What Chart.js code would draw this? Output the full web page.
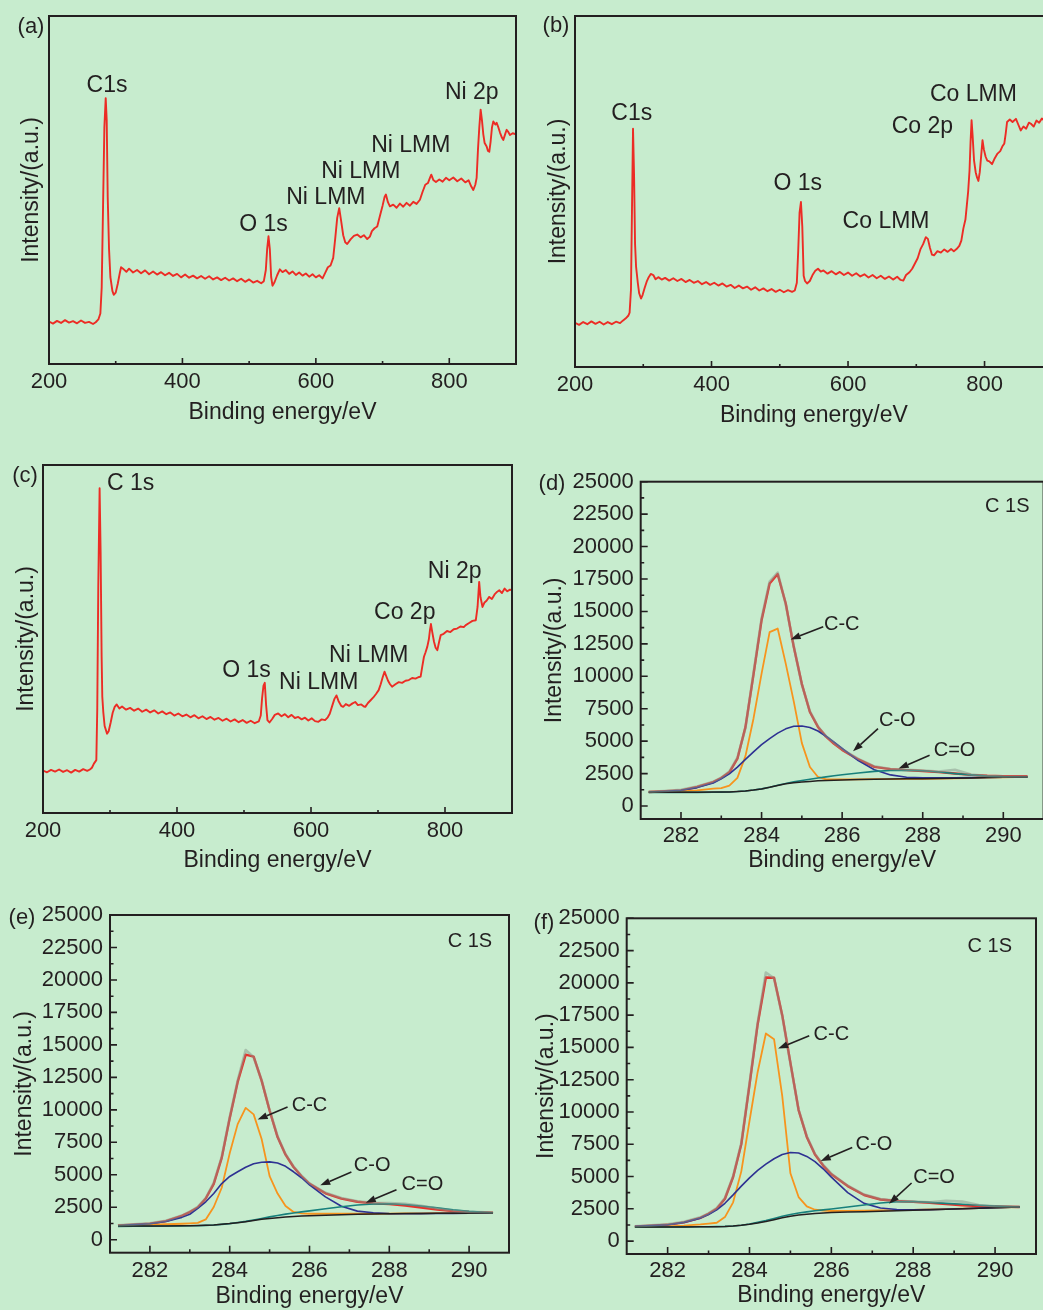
<!DOCTYPE html>
<html>
<head>
<meta charset="utf-8">
<script src="https://cdn.jsdelivr.net/npm/chart.js@4.4.1/dist/chart.umd.min.js"></script>
<style>
  html, body { margin: 0; padding: 0; width: 1043px; height: 1310px; overflow: hidden; background: #c7ecce; }
  .panel { position: absolute; }
  .tag { position: absolute; transform: translate(-50%, -50%); font: 22px "Liberation Sans", Arial, sans-serif; color: #231f20; white-space: nowrap; }
</style>
</head>
<body>
<div class="panel" style="left:0;top:0"><canvas id="chartA" width="530" height="440"></canvas></div>
<div class="panel" style="left:530px;top:0"><canvas id="chartB" width="530" height="440"></canvas></div>
<div class="panel" style="left:0;top:450px"><canvas id="chartC" width="530" height="440"></canvas></div>
<div class="panel" style="left:530px;top:460px"><canvas id="chartD" width="520" height="420"></canvas></div>
<div class="panel" style="left:0;top:890px"><canvas id="chartE" width="530" height="420"></canvas></div>
<div class="panel" style="left:520px;top:890px"><canvas id="chartF" width="523" height="420"></canvas></div>

<div class="tag" style="left:31px;top:26px">(a)</div>
<div class="tag" style="left:556px;top:25px">(b)</div>
<div class="tag" style="left:25px;top:475px">(c)</div>
<div class="tag" style="left:552px;top:483px">(d)</div>
<div class="tag" style="left:22px;top:917px">(e)</div>
<div class="tag" style="left:544px;top:922px">(f)</div>

<script>
// ---- tick labels ----
const surveyTicks = [200, 400, 600, 800];
const surveyMinor = [300, 500, 700];
const bindingTicks = [282, 284, 286, 288, 290];
const bindingMinor = [283, 285, 287, 289];
const intensityTicks = [0, 2500, 5000, 7500, 10000, 12500, 15000, 17500, 20000, 22500, 25000];
const intensityMinor = [1250, 3750, 6250, 8750, 11250, 13750, 16250, 18750, 21250, 23750];

// ---- survey spectra (a) ----
const energyA = [
  200,206,212,218,224,230,236,242,248,254,
  260,266,270,274,277,279,281,283,285,286.5,
  288,290,292,295,297,300,303,306,308,312,
  316,320,326,332,338,344,350,356,362,368,
  374,380,386,392,398,404,410,416,422,428,
  434,440,446,452,458,464,470,476,482,488,
  494,500,506,512,518,522,525,527,529,531,
  533,535,538,542,546,550,555,560,565,570,
  575,580,585,590,595,600,605,610,614,618,
  622,626,629,632,635,638,641,644,647,652,
  657,662,667,672,677,681,684,688,692,696,
  700,703,705,708,711,716,721,726,731,736,
  741,746,751,756,760,764,768,771,773,776,
  780,785,790,795,800,806,812,818,824,829,
  833,836,839,841,843,845,847,849,851,853,
  856,858,860,862,864,866,869,871,873,876,
  879,881,884,886,888,891,895,900];
const countsA = [
  12.2,11.6,12.4,11.8,12.6,11.9,12.3,11.7,12.5,11.8,
  12.1,11.5,12.0,12.8,14.5,22,45,68,76.4,70,
  48,33,25,21,19.9,20.5,23,26,27.8,27.2,
  26.5,27.4,26.3,27.0,26.1,26.9,25.8,26.6,25.7,26.4,
  25.5,26.2,25.3,25.9,24.9,25.7,24.8,25.4,24.6,25.3,
  24.5,25.2,24.3,24.9,24.1,24.8,24.0,24.6,23.8,24.5,
  23.6,24.3,23.4,23.9,23.2,23.8,27,33,36.7,33,
  25,22.5,23.5,25.5,27.2,26.4,27.0,25.9,26.6,25.6,
  26.3,25.4,26.0,25.1,25.8,24.9,25.5,24.6,26.2,27.8,
  28.3,30.5,36,42,44.8,41,37,35,34.5,35.8,
  36.8,37.2,36.4,37.0,35.9,36.6,38.2,39.0,39.5,42.5,
  45.5,48.0,48.7,46.5,45.3,45.8,44.9,46.1,45.2,46.3,
  45.5,46.6,46.0,47.2,49.5,51.5,52.0,53.5,54.4,52.9,
  52.3,53.0,52.4,53.5,52.8,53.6,52.5,53.3,52.2,52.8,
  51.0,50.0,51.5,53.5,61.6,68,73.1,70,66,63.5,
  62.5,61.2,61.0,64,68,69.7,68.8,69.3,68.3,66.5,
  65,64.4,66.2,67.3,66.8,65.8,66.3,66.0];

// ---- survey spectra (b) ----
const energyB = [
  200,206,212,218,224,230,236,242,248,254,
  260,266,270,274,278,280,282,283.5,285,286.5,
  288,289.5,292,294,296.7,299,302,305,308,311,
  314.7,318,322,327,332,338,344,350,356,362,
  368,374,380,386,392,398,404,410,416,422,
  428,434,440,446,452,458,464,470,476,482,
  488,494,500,506,512,518,522,525,527,529,
  531,533,535,537,540,544,548,552,556,560,
  564,570,576,582,588,594,600,606,612,618,
  624,630,636,642,648,654,660,666,672,677,
  681,685,690,694,698,702,706,710,714,717,
  720,723,726,731,736,741,746,751,755,759,
  763,766,769,772,774,776,778,779.5,781,782.5,
  784.6,787,789,791,793,795,797,799,801.6,804,
  807,811,815,819,823,826,829,831,833,837,
  841,846,850,853,857,861,865,868,872,876,
  880,884,887,891,895,900];
const countsB = [
  12.6,12.0,12.8,12.2,13.0,12.3,12.9,12.1,12.8,12.2,
  12.9,12.5,13.2,13.8,14.6,15.5,22,45,67.9,55,
  35,28.5,24,21,19.5,20.5,22.5,24.3,25.6,26.5,
  26.2,25.0,25.6,24.9,25.4,24.6,25.3,24.5,25.1,24.2,
  24.8,24.0,24.5,23.6,24.2,23.4,24.0,23.2,23.8,22.9,
  23.4,22.5,23.2,22.4,22.9,22.0,22.7,21.8,22.4,21.6,
  22.2,21.4,22.0,21.3,21.9,21.4,21.8,24,33,44,
  47,40,26,24.5,23.8,24.5,26.2,27.4,28.0,27.2,
  27.5,26.6,27.3,26.4,27.1,26.2,26.9,26.0,26.7,25.8,
  26.4,25.5,26.2,25.3,26.0,25.1,25.8,24.9,25.7,24.8,
  24.6,26.2,27.0,28.0,29.5,31.0,33.5,35.0,37.0,36.5,
  34.0,32.0,31.8,33.0,32.6,33.5,32.8,33.6,33.0,33.6,
  34.5,36.0,39.5,42.0,46,50,56,64,70.3,66,
  58.9,55.5,54.0,53.0,55.5,60,64.6,62,59.9,58.8,
  58.6,57.8,59.5,60.8,61.5,62.8,63.7,66.5,69.8,70.5,
  69.8,70.7,68.8,67.4,68.5,67.9,69.6,69.3,68.5,70.2,
  69.6,70.8,70.3,69.8,70.5,70.0];

// ---- survey spectra (c) ----
const energyC = [
  200,206,212,218,224,230,236,242,248,254,
  260,266,270,273,276,279.6,281,282.5,284.5,286,
  287.5,288.5,290,292,295.6,298,301,304,307,310,
  314,318,324,330,336,342,348,354,360,366,
  372,378,384,390,396,402,408,414,420,426,
  432,438,444,450,456,462,468,474,480,486,
  492,498,504,510,516,522,525,527,529,531,
  533,535,538,542,546,551,556,561,566,571,
  576,581,586,591,596,601,606,611,616,621,
  625,628,632,635,638,641,645,648,652,657,
  662,666,670,675,679,681,685,689,693,697,
  701,704,707,709.7,712,715,718,721,726,731,
  736,741,746,751,756,760,763.6,766,768.6,771,
  773.6,776,777.5,779,781,783.6,786,788.6,791,793.6,
  798,803,808,813,818,823,828,831,836,841,
  846,848.6,851,853,856,859,862,866,870,874,
  878,881,885,889,893,897,900];
const countsC = [
  12.2,11.7,12.4,11.9,12.5,11.8,12.3,11.6,12.4,11.9,
  12.6,12.1,12.5,13.0,14.2,15.2,30,65,93.3,75,
  45,33.4,29,25,22.8,23.5,26,28.8,30.5,31.2,
  30.0,30.6,29.7,30.2,29.4,30.0,29.1,29.7,28.9,29.5,
  28.6,29.2,28.4,28.9,28.0,28.6,27.8,28.3,27.5,28.1,
  27.2,27.8,27.0,27.6,26.8,27.3,26.5,27.1,26.3,26.9,
  26.1,26.7,25.9,26.5,25.8,26.3,28,33,36.5,37.4,
  31,26.7,26.0,27.0,28.2,28.6,27.8,28.4,27.5,28.2,
  27.3,27.6,26.9,27.4,26.6,27.2,26.4,26.2,26.9,26.7,
  27.5,28.5,31.0,32.8,33.8,32.2,30.8,30.5,31.3,30.8,
  31.5,31.9,31.0,31.2,30.6,30.5,31.6,32.4,33.2,34.2,
  35.3,37.0,39.0,40.6,39.5,38.0,37.0,36.3,37.0,37.6,
  37.4,38.0,38.2,38.8,38.6,39.0,39.2,42.0,44.9,46.2,
  47.8,50.0,52.5,54.3,52.0,49.2,47.5,46.8,49.0,51.1,
  51.5,52.3,52.0,52.8,53.0,53.6,53.4,54.0,54.6,55.2,
  55.4,59.2,66.4,62.0,59.2,60.5,61.0,62.1,61.5,62.8,
  63.6,64.0,63.2,64.5,63.7,64.2,64.0];

// ---- C 1s high resolution, common energy grid ----
const energyC1s = [281.2, 281.6, 282.0, 282.4, 282.8, 283.0, 283.2, 283.4, 283.6, 283.8,
  284.0, 284.2, 284.4, 284.6, 284.8, 285.0, 285.2, 285.4, 285.6, 285.8,
  286.0, 286.4, 286.8, 287.2, 287.6, 288.0, 288.4, 288.8, 289.2, 289.6, 290.0, 290.6];

// (d)
const rawD      = [1090,1160,1250,1510,1880, 2180,2650,3720,6040,10250, 14450,17300,18000,15560,12300, 9350,7300,6130,5380,4850, 4370,3640,3060,2850,2800, 2740,2660,2800,2430,2320, 2270,2280];
const envelopeD = [1080,1140,1210,1470,1850, 2160,2600,3650,6080,10150, 14330,17150,17880,15610,12250, 9400,7250,6100,5350,4800, 4330,3590,3020,2840,2770, 2700,2610,2510,2400,2330, 2290,2290];
const ccD       = [1080,1100,1130,1210,1340, 1380,1580,2170,3850,6750, 10210,13400,13680,10980,8050, 4850,3010,2240,2060,2050, 2050,2060,2070,2080,2090, 2100,2120,2140,2160,2190, 2210,2240];
const coD       = [1080,1140,1210,1420,1780, 2100,2480,3000,3600,4170, 4730,5200,5620,5950,6150, 6170,6050,5780,5380,4920, 4440,3500,2800,2400,2220, 2180,2180,2180,2190,2200, 2220,2240];
const cdoD      = [1040,1045,1050,1055,1065, 1075,1085,1115,1160,1230, 1320,1450,1600,1740,1860, 1970,2070,2160,2250,2330, 2410,2550,2670,2740,2760, 2720,2620,2500,2400,2320, 2270,2240];
const baseD     = [1060,1060,1065,1070,1075, 1080,1090,1120,1160,1230, 1320,1440,1580,1710,1800, 1860,1900,1940,1970,1990, 2010,2050,2070,2090,2100, 2110,2130,2150,2170,2190, 2210,2240];

// (e)
const rawE      = [1110,1180,1270,1460,1860, 2150,2520,3210,4380,6380, 9430,12250,14600,14050,12280, 9980,7950,6580,5630,4920, 4340,3610,3210,2960,2850, 2820,2760,2620,2400,2230, 2140,2090];
const envelopeE = [1100,1160,1230,1430,1830, 2130,2480,3170,4300,6300, 9350,12150,14250,14100,12250, 9950,7900,6550,5600,4880, 4300,3570,3160,2920,2800, 2740,2630,2480,2320,2200, 2130,2080];
const ccE       = [1100,1130,1160,1190,1230, 1260,1300,1560,2520,4000, 6650,8900,10150,9650,7750, 4900,3550,2600,2140,2030, 2000,2000,2000,2000,2000, 2010,2020,2030,2040,2045, 2050,2055];
const coE       = [1100,1160,1230,1400,1720, 1960,2420,2920,3560,4320, 4870,5230,5580,5850,5960, 5990,5900,5650,5230,4770, 4220,3300,2580,2200,2070, 2010,2000,2005,2015,2030, 2040,2055];
const cdoE      = [1030,1035,1040,1050,1060, 1070,1080,1100,1130,1180, 1240,1320,1410,1520,1640, 1760,1870,1970,2060,2140, 2220,2380,2540,2670,2750, 2770,2710,2600,2460,2310, 2190,2080];
const baseE     = [1050,1055,1060,1065,1075, 1080,1090,1110,1140,1190, 1240,1310,1390,1480,1570, 1640,1700,1750,1790,1820, 1850,1890,1930,1960,1980, 2000,2010,2020,2030,2040, 2045,2055];

// (f)
const rawF      = [1150,1220,1300,1490,1840, 2140,2550,3340,5030,7600, 12200,16900,20800,20350,17450, 13750,10180,8110,6750,5900, 5220,4290,3600,3250,3130, 3060,3010,3120,3060,2800, 2700,2650];
const envelopeF = [1140,1200,1260,1450,1800, 2110,2500,3280,4960,7500, 12100,16800,20420,20400,17500, 13800,10150,8070,6700,5850, 5180,4260,3570,3220,3110, 3040,2960,2860,2780,2720, 2690,2640];
const ccF       = [1085,1110,1140,1200,1290, 1350,1420,1860,3000,5400, 9300,13100,16080,15640,11250, 5250,3410,2690,2430,2370, 2330,2340,2360,2380,2400, 2420,2450,2480,2520,2560, 2590,2640];
const coF       = [1140,1200,1260,1450,1780, 2060,2420,2930,3580,4260, 4900,5470,5960,6380,6700, 6860,6820,6560,6150,5600, 4950,3750,2920,2560,2450, 2430,2440,2470,2510,2550, 2590,2640];
const cdoF      = [1085,1090,1095,1100,1110, 1115,1125,1140,1170,1230, 1320,1450,1590,1750,1920, 2060,2170,2260,2350,2420, 2490,2640,2800,2950,3050, 3070,3000,2920,2850,2780, 2720,2640];
const baseF     = [1085,1090,1095,1100,1110, 1115,1120,1130,1160,1220, 1300,1400,1520,1660,1800, 1920,2020,2080,2140,2180, 2210,2250,2280,2320,2350, 2380,2420,2460,2500,2550, 2590,2640];

const ink = '#231f20';
const FONT = '"Liberation Sans", Arial, sans-serif';
Chart.defaults.font.family = FONT;
Chart.defaults.color = ink;

function pts(xs, ys) {
  return xs.map((x, i) => ({ x: x, y: ys[i] }));
}

// frame, inward ticks, peak names and arrows
const frame = {
  id: 'frame',
  afterDatasetsDraw(chart, args, opts) {
    const { ctx, chartArea: a, scales: { x, y } } = chart;
    ctx.save();
    ctx.strokeStyle = ink;
    ctx.fillStyle = ink;
    ctx.lineWidth = 2;
    ctx.strokeRect(a.left, a.top, a.right - a.left, a.bottom - a.top);

    ctx.lineWidth = 1.6;
    ctx.beginPath();
    x.ticks.forEach(t => {
      const px = x.getPixelForValue(t.value);
      ctx.moveTo(px, a.bottom); ctx.lineTo(px, a.bottom - opts.major);
    });
    (opts.xMinor || []).forEach(v => {
      const px = x.getPixelForValue(v);
      ctx.moveTo(px, a.bottom); ctx.lineTo(px, a.bottom - opts.minor);
    });
    if (opts.yMinor) {
      y.ticks.forEach(t => {
        const py = y.getPixelForValue(t.value);
        ctx.moveTo(a.left, py); ctx.lineTo(a.left + opts.major, py);
      });
      opts.yMinor.forEach(v => {
        const py = y.getPixelForValue(v);
        ctx.moveTo(a.left, py); ctx.lineTo(a.left + opts.minor, py);
      });
    }
    ctx.stroke();

    ctx.font = opts.fontSize + 'px ' + FONT;
    ctx.textAlign = 'center';
    ctx.textBaseline = 'middle';
    (opts.texts || []).forEach(t => {
      ctx.fillText(t.text, x.getPixelForValue(t.x), y.getPixelForValue(t.y));
    });

    ctx.lineWidth = 1.6;
    (opts.arrows || []).forEach(ar => {
      const x0 = x.getPixelForValue(ar.from[0]), y0 = y.getPixelForValue(ar.from[1]);
      const x1 = x.getPixelForValue(ar.to[0]), y1 = y.getPixelForValue(ar.to[1]);
      const ang = Math.atan2(y1 - y0, x1 - x0);
      const head = 10, half = 3.5;
      const bx = x1 - head * Math.cos(ang), by = y1 - head * Math.sin(ang);
      ctx.beginPath();
      ctx.moveTo(x0, y0); ctx.lineTo(bx, by);
      ctx.stroke();
      ctx.beginPath();
      ctx.moveTo(x1, y1);
      ctx.lineTo(bx + half * Math.sin(ang), by - half * Math.cos(ang));
      ctx.lineTo(bx - half * Math.sin(ang), by + half * Math.cos(ang));
      ctx.closePath();
      ctx.fill();
    });
    ctx.restore();
  }
};

function baseOptions(box) {
  return {
    responsive: false,
    animation: false,
    devicePixelRatio: 1,
    layout: { padding: { left: 0, top: box.top, right: box.right, bottom: 0 } },
    plugins: { legend: { display: false }, tooltip: { enabled: false } },
    elements: { point: { radius: 0 }, line: { tension: 0, borderJoinStyle: 'round' } }
  };
}

function surveyChart(id, energy, counts, box, texts) {
  const options = baseOptions(box);
  options.plugins.frame = { major: 6, minor: 3, xMinor: surveyMinor, fontSize: 23, texts: texts };
  options.scales = {
    x: {
      type: 'linear', min: 200, max: 900,
      grid: { display: false, drawTicks: false }, border: { display: false },
      afterBuildTicks: s => { s.ticks = surveyTicks.map(v => ({ value: v })); },
      afterFit: s => { s.height = box.xh; },
      ticks: { font: { size: 22 }, padding: box.tickPad, maxRotation: 0, autoSkip: false },
      title: { display: true, text: 'Binding energy/eV', font: { size: 23 }, padding: { top: 0, bottom: box.xTitlePad } }
    },
    y: {
      type: 'linear', min: 0, max: 100,
      grid: { display: false, drawTicks: false }, border: { display: false },
      ticks: { display: false },
      afterFit: s => { s.width = box.yw; },
      title: { display: true, text: 'Intensity/(a.u.)', font: { size: 23 }, padding: { top: box.yTitlePad, bottom: 0 } }
    }
  };
  return new Chart(document.getElementById(id), {
    type: 'line',
    data: { datasets: [{ data: pts(energy, counts), borderColor: '#ec2c25', borderWidth: 1.9 }] },
    options: options,
    plugins: [frame]
  });
}

function c1sChart(id, series, box, marks) {
  const options = baseOptions(box);
  options.plugins.frame = {
    major: 7, minor: 3.5, xMinor: bindingMinor, yMinor: intensityMinor,
    fontSize: 20, texts: marks.texts, arrows: marks.arrows
  };
  options.scales = {
    x: {
      type: 'linear', min: 281, max: 291,
      grid: { display: false, drawTicks: false }, border: { display: false },
      afterBuildTicks: s => { s.ticks = bindingTicks.map(v => ({ value: v })); },
      afterFit: s => { s.height = box.xh; },
      ticks: { font: { size: 22 }, padding: box.tickPad, maxRotation: 0, autoSkip: false },
      title: { display: true, text: 'Binding energy/eV', font: { size: 23 }, padding: { top: 0, bottom: box.xTitlePad } }
    },
    y: {
      type: 'linear', min: -1000, max: 25000,
      grid: { display: false, drawTicks: false }, border: { display: false },
      afterBuildTicks: s => { s.ticks = intensityTicks.map(v => ({ value: v })); },
      afterFit: s => { s.width = box.yw; },
      ticks: { font: { size: 22 }, padding: 7, autoSkip: false, callback: v => String(v) },
      title: { display: true, text: 'Intensity/(a.u.)', font: { size: 23 }, padding: { top: box.yTitlePad, bottom: 0 } }
    }
  };
  const line = (data, color, width) => ({ data: pts(energyC1s, data), borderColor: color, borderWidth: width });
  return new Chart(document.getElementById(id), {
    type: 'line',
    data: {
      datasets: [
        line(series.raw, 'rgba(135,150,138,0.5)', 2.6),
        line(series.base, ink, 1.5),
        line(series.cdo, '#17807c', 1.6),
        line(series.co, '#2e3192', 1.6),
        line(series.cc, '#f7941d', 1.8),
        line(series.envelope, '#e8302a', 2.4)
      ]
    },
    options: options,
    plugins: [frame]
  });
}

surveyChart('chartA', energyA, countsA,
  { top: 16, right: 14, yw: 49, xh: 76, tickPad: 5, xTitlePad: 14, yTitlePad: 18 },
  [
    { text: 'C1s', x: 287, y: 80 },
    { text: 'O 1s', x: 521.5, y: 40 },
    { text: 'Ni LMM', x: 615, y: 47.7 },
    { text: 'Ni LMM', x: 667.4, y: 55.2 },
    { text: 'Ni LMM', x: 742.3, y: 62.7 },
    { text: 'Ni 2p', x: 833.7, y: 78 }
  ]);

surveyChart('chartB', energyB, countsB,
  { top: 16, right: 7.2, yw: 45, xh: 73, tickPad: 5, xTitlePad: 11, yTitlePad: 14.5 },
  [
    { text: 'C1s', x: 283.1, y: 72.2 },
    { text: 'O 1s', x: 526.3, y: 52.3 },
    { text: 'Co LMM', x: 655.7, y: 41.5 },
    { text: 'Co 2p', x: 708.9, y: 68.4 },
    { text: 'Co LMM', x: 783.6, y: 77.7 }
  ]);

surveyChart('chartC', energyC, countsC,
  { top: 15, right: 18, yw: 43, xh: 77, tickPad: 5, xTitlePad: 16, yTitlePad: 13 },
  [
    { text: 'C 1s', x: 330.9, y: 94.7 },
    { text: 'O 1s', x: 503.6, y: 41 },
    { text: 'Ni LMM', x: 611.5, y: 37.5 },
    { text: 'Ni LMM', x: 686.1, y: 45.2 },
    { text: 'Co 2p', x: 739.9, y: 57.6 },
    { text: 'Ni 2p', x: 814.5, y: 69.3 }
  ]);

c1sChart('chartD',
  { raw: rawD, envelope: envelopeD, cc: ccD, co: coD, cdo: cdoD, base: baseD },
  { top: 21.7, right: 6.4, yw: 110.7, xh: 61, tickPad: 4, xTitlePad: 6, yTitlePad: 11 },
  {
    texts: [
      { text: 'C 1S', x: 290.1, y: 23070 },
      { text: 'C-C', x: 285.99, y: 14020 },
      { text: 'C-O', x: 287.37, y: 6560 },
      { text: 'C=O', x: 288.79, y: 4244 }
    ],
    arrows: [
      { from: [285.53, 13812], to: [284.72, 12840] },
      { from: [286.89, 5972], to: [286.27, 4221] },
      { from: [288.17, 3912], to: [287.40, 2886] }
    ]
  });

c1sChart('chartE',
  { raw: rawE, envelope: envelopeE, cc: ccE, co: coE, cdo: cdoE, base: baseE },
  { top: 25, right: 21, yw: 110, xh: 57.3, tickPad: 5, xTitlePad: 0, yTitlePad: 11 },
  {
    texts: [
      { text: 'C 1S', x: 290.02, y: 22942 },
      { text: 'C-C', x: 286.0, y: 10353 },
      { text: 'C-O', x: 287.57, y: 5705 },
      { text: 'C=O', x: 288.83, y: 4263 }
    ],
    arrows: [
      { from: [285.45, 10222], to: [284.70, 9251] },
      { from: [287.05, 5211], to: [286.27, 4186] },
      { from: [288.18, 3855], to: [287.41, 2852] }
    ]
  });

c1sChart('chartF',
  { raw: rawF, envelope: envelopeF, cc: ccF, co: coF, cdo: cdoF, base: baseF },
  { top: 28.3, right: 7, yw: 106.7, xh: 56, tickPad: 4, xTitlePad: 1, yTitlePad: 13 },
  {
    texts: [
      { text: 'C 1S', x: 289.87, y: 22797 },
      { text: 'C-C', x: 286.0, y: 16028 },
      { text: 'C-O', x: 287.04, y: 7498 },
      { text: 'C=O', x: 288.51, y: 4916 }
    ],
    arrows: [
      { from: [285.46, 15896], to: [284.70, 14919] },
      { from: [286.51, 7242], to: [285.74, 6203] },
      { from: [287.96, 4497], to: [287.41, 2900] }
    ]
  });
</script>
</body>
</html>
